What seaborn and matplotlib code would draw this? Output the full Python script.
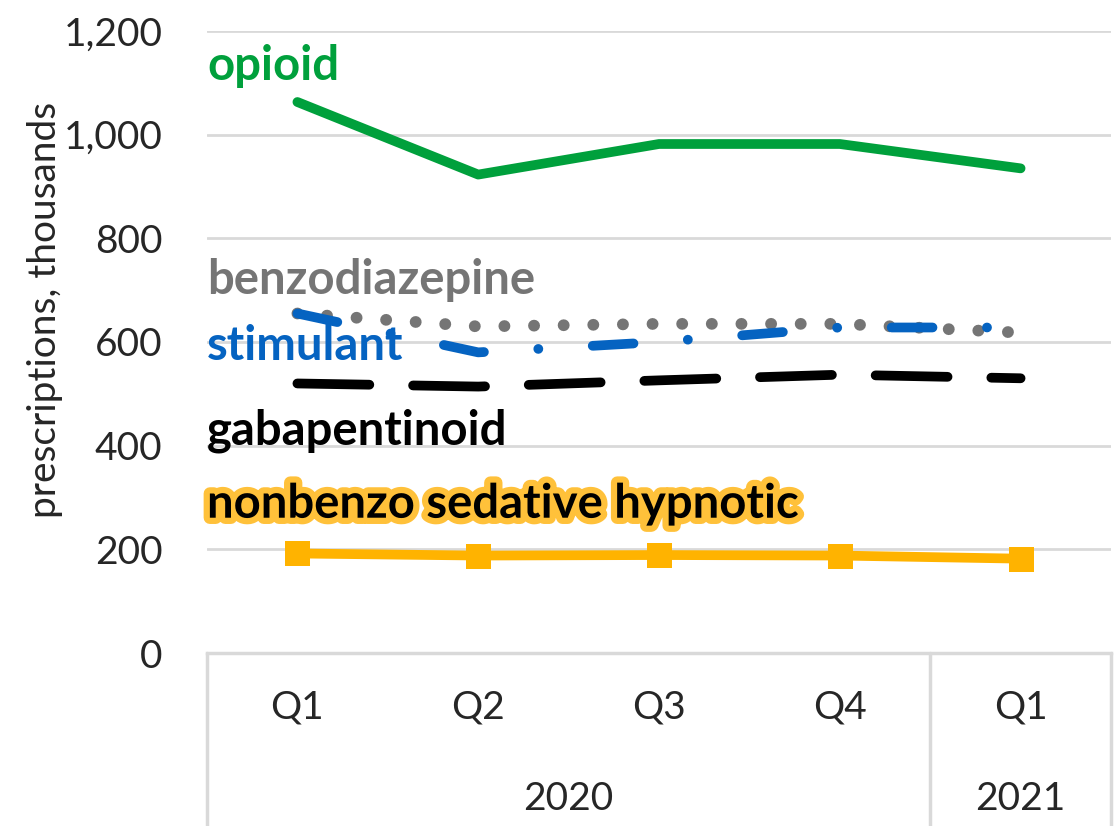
import pandas as pd
import seaborn as sns
import matplotlib.pyplot as plt
import matplotlib.ticker as ticker
import matplotlib.patheffects as pe

# Data (thousands of prescriptions)
periods = ['2020 Q1', '2020 Q2', '2020 Q3', '2020 Q4', '2021 Q1']
quarter_labels = ['Q1', 'Q2', 'Q3', 'Q4', 'Q1']
years = ['2020', '2021']
year_spans = [(0, 3), (4, 4)]

opioid = [1063, 923, 982, 982, 935]
benzodiazepine = [655, 630, 635, 635, 618]
stimulant = [655, 580, 600, 628, 628]
gabapentinoid = [520, 514, 526, 537, 530]
nonbenzo = [192, 188, 189, 188, 182]

series = {
    'opioid': opioid,
    'benzodiazepine': benzodiazepine,
    'stimulant': stimulant,
    'gabapentinoid': gabapentinoid,
    'nonbenzo sedative hypnotic': nonbenzo,
}

colors = {
    'opioid': '#00A03C',
    'benzodiazepine': '#757575',
    'stimulant': '#0563C1',
    'gabapentinoid': '#000000',
    'nonbenzo sedative hypnotic': '#FFB300',
}

# label placement (y in data units)
label_pos = {
    'opioid': 1132,
    'benzodiazepine': 720,
    'stimulant': 593,
    'gabapentinoid': 428,
    'nonbenzo sedative hypnotic': 288,
}

df = pd.DataFrame([
    {'Period': p, 'Drug': name, 'Value': v}
    for name, vals in series.items()
    for p, v in zip(periods, vals)
])

sns.set_style('white')
plt.rcParams['font.family'] = ['Lato', 'DejaVu Sans']

fig = plt.figure(figsize=(11.2, 8.26), dpi=100)
ax = fig.add_axes([207 / 1120, 1 - 653 / 826, 904 / 1120, 622 / 826])

lw = 7
line_styles = {
    'opioid': '-',
    'benzodiazepine': (0, (0.01, 2.5)),
    'stimulant': (0, (4.2, 5.6, 0.01, 5.6)),
    'gabapentinoid': (0, (7.4, 4.5)),
    'nonbenzo sedative hypnotic': '-',
}

for name in series:
    sub = df[df['Drug'] == name]
    kws = dict(color=colors[name], linewidth=lw, sort=False, errorbar=None,
               solid_capstyle='round', ax=ax, legend=False)
    if name == 'nonbenzo sedative hypnotic':
        kws.update(marker='s', markersize=18, markeredgewidth=0)
    if name == 'benzodiazepine':
        kws['linewidth'] = 8.5
    sns.lineplot(data=sub, x='Period', y='Value', **kws)
    ax.lines[-1].set_linestyle(line_styles[name])
    ax.lines[-1].set_dash_capstyle('round')

# series labels
for name, y in label_pos.items():
    is_nb = name.startswith('nonbenzo')
    t = ax.text(-0.5, y, name, color='black' if is_nb else colors[name],
                fontsize=34, fontweight='bold', ha='left', va='center')
    if is_nb:
        t.set_path_effects([pe.withStroke(linewidth=9, foreground='#FFC13A')])

ax.set_xlim(-0.5, 4.5)
ax.set_ylim(0, 1200)
ax.set_yticks(range(0, 1201, 200))
ax.yaxis.set_major_formatter(ticker.FuncFormatter(lambda v, pos: f'{v:,.0f}'))
ax.grid(axis='y', color='#D9D9D9', linewidth=2)
ax.set_axisbelow(True)
for side in ['left', 'right', 'top']:
    ax.spines[side].set_visible(False)
ax.spines['bottom'].set_color('#D9D9D9')
ax.spines['bottom'].set_linewidth(2.5)
ax.tick_params(axis='y', length=0, pad=32, labelsize=28)
ax.set_xticks(range(len(periods)))
ax.set_xticklabels(quarter_labels)
ax.tick_params(axis='x', length=0, pad=26, labelsize=28)
ax.set_xlabel(None)
ax.set_ylabel(None)

# multi-level category axis
trans = ax.get_xaxis_transform()
for xb in [-0.5, 3.5, 4.5]:
    ax.plot([xb, xb], [0, -0.28], transform=trans, color='#D9D9D9',
            linewidth=2.5, clip_on=False)
for yr, (a, b) in zip(years, year_spans):
    ax.text((a + b) / 2, -0.235, yr, transform=trans, ha='center', va='center',
            fontsize=28)

fig.text(45 / 1120, 1 - 310 / 826, 'prescriptions, thousands', rotation=90,
         ha='center', va='center', fontsize=28)

fig.savefig('out.png', dpi=100)
